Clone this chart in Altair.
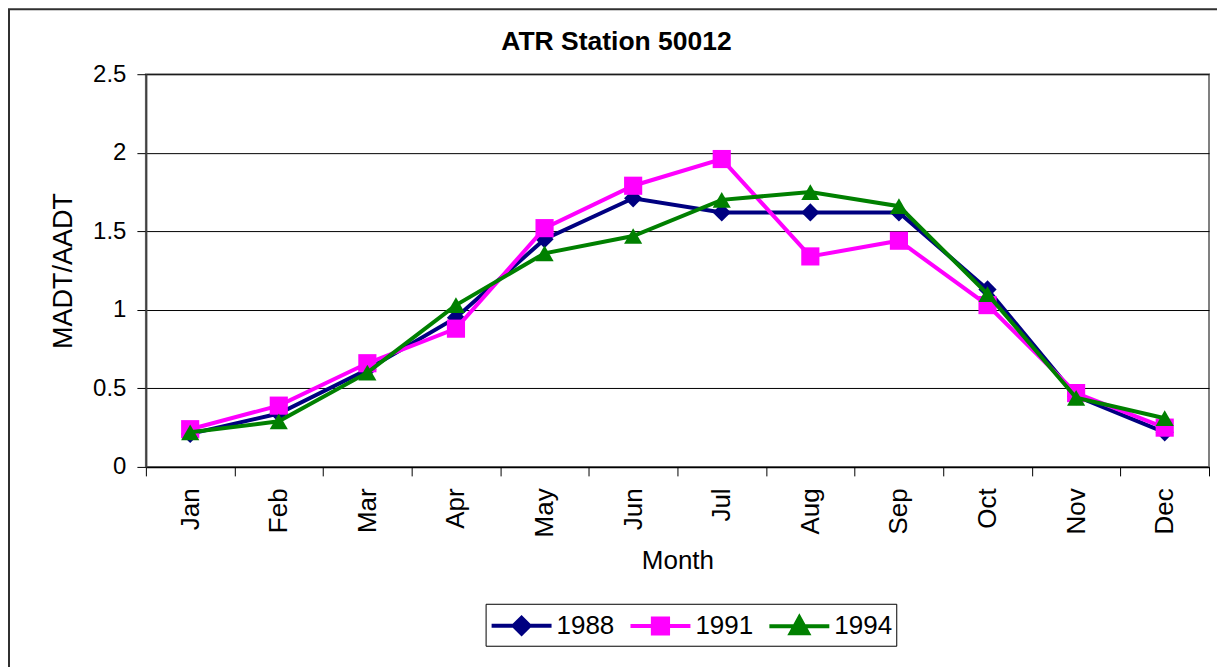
import altair as alt
import pandas as pd

months = ["Jan", "Feb", "Mar", "Apr", "May", "Jun", "Jul", "Aug", "Sep", "Oct", "Nov", "Dec"]
years = ["1988", "1991", "1994"]
v1988 = [0.21, 0.34, 0.62, 0.95, 1.45, 1.71, 1.62, 1.62, 1.62, 1.13, 0.45, 0.22]
v1991 = [0.24, 0.39, 0.66, 0.88, 1.52, 1.79, 1.96, 1.34, 1.44, 1.03, 0.47, 0.25]
v1994 = [0.22, 0.29, 0.60, 1.03, 1.36, 1.47, 1.70, 1.75, 1.66, 1.10, 0.44, 0.31]
colors = ["#000080", "#FF00FF", "#008000"]
marker_shapes = ["diamond", "square", "triangle-up"]

rows = []
for yr, vals in zip(years, [v1988, v1991, v1994]):
    for m, v in zip(months, vals):
        rows.append({"Month": m, "value": v, "year": yr})
df = pd.DataFrame(rows)

FONT = "Liberation Sans"
W, H = 1064, 393

x_enc = alt.X("Month:N", sort=months, title="Month",
              scale=alt.Scale(paddingInner=0, paddingOuter=0),
              axis=alt.Axis(labelAngle=-90, tickBand="extent", grid=False,
                            tickSize=9, labelPadding=12, titlePadding=11,
                            labelFontSize=26, titleFontSize=26,
                            domainColor="black", tickColor="black", domainWidth=1.5))
y_enc = alt.Y("value:Q", title="MADT/AADT",
              scale=alt.Scale(domain=[0, 2.5], nice=False),
              axis=alt.Axis(values=[0, 0.5, 1, 1.5, 2, 2.5], format=".1~f",
                            tickSize=9, labelPadding=11, titlePadding=15,
                            labelFontSize=24, titleFontSize=27,
                            grid=True, gridColor="black", gridWidth=1, gridOpacity=1,
                            domainColor="#404040", domainWidth=2, tickColor="black"))

base = alt.Chart(df)

layers = []
for yr, col, shp in zip(years, colors, marker_shapes):
    sub = base.transform_filter(alt.datum.year == yr)
    layers.append(sub.mark_line(strokeWidth=4, color=col).encode(x=x_enc, y=y_enc))
    layers.append(sub.mark_point(filled=True, opacity=1, color=col, shape=shp, size=330)
                  .encode(x=x_enc, y=y_enc))

# legend symbols: a 60px line with its marker (unit = 16px, symbol size 32px)
legend_paths = [
    "M-1,0H2.75M0.375,0L0.875,-0.5L1.375,0L0.875,0.5Z",
    "M-1,0H2.75M0.4,-0.47H1.35V0.47H0.4Z",
    "M-1,0H2.75M0.33,0.45L0.875,-0.55L1.42,0.45Z",
]
leg = alt.Legend(title=None, orient="none", legendX=340, legendY=530,
                 direction="horizontal", symbolSize=1024, symbolStrokeWidth=4,
                 labelFontSize=26, labelFont=FONT, labelColor="black", labelOffset=31,
                 columnPadding=8, gridAlign="all", strokeColor="black",
                 fillColor="white", padding=4)

legend_layer = base.transform_filter("false").mark_point(filled=True, opacity=1).encode(
    x=x_enc, y=y_enc,
    fill=alt.Fill("year:N", scale=alt.Scale(domain=years, range=colors), legend=leg),
    stroke=alt.Stroke("year:N", scale=alt.Scale(domain=years, range=colors), legend=leg),
    shape=alt.Shape("year:N", scale=alt.Scale(domain=years, range=legend_paths), legend=leg),
)

frame = alt.Chart(alt.Data(values=[{}])).mark_rect(
    fillOpacity=0, stroke="#303030", strokeWidth=2
).encode(
    x=alt.value(-137), x2=alt.value(W + 12), y=alt.value(-65), y2=alt.value(H + 260)
)

chart = alt.layer(frame, *layers, legend_layer).properties(
    width=W, height=H,
    title=alt.TitleParams("ATR Station 50012", fontSize=26.5, fontWeight="bold", font=FONT,
                          anchor="middle", dx=-61, offset=-47, color="black"),
    autosize=alt.AutoSizeParams(type="none"),
    padding={"left": 138, "top": 66, "right": 8, "bottom": 200},
).configure_axis(
    labelFont=FONT, titleFont=FONT,
    labelColor="black", titleColor="black", titleFontWeight="normal",
).configure_view(
    stroke="#808080", strokeWidth=2
)

chart.save("out.html", embed_options={"renderer": "svg", "actions": False})
